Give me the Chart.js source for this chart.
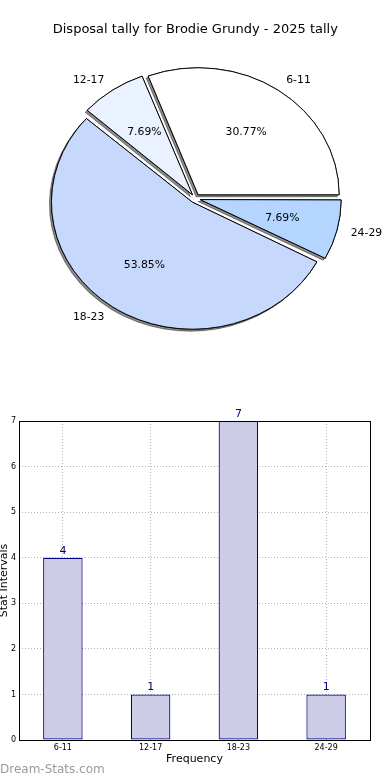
<!DOCTYPE html>
<html>
<head>
<meta charset="utf-8">
<script src="https://cdn.jsdelivr.net/npm/chart.js@4.4.1/dist/chart.umd.min.js"></script>
<style>
  html, body { margin: 0; padding: 0; background: #fff; }
  body { width: 390px; height: 780px; position: relative; overflow: hidden; }
  #pie { position: absolute; left: 0; top: 0; }
  #bar { position: absolute; left: 0; top: 395px; }
  .mark { position: absolute; left: 0; top: 761px; font: 12px "DejaVu Sans", sans-serif; color: #9a9a9a; line-height: 16px; }
</style>
</head>
<body>
<canvas id="pie" width="390" height="400"></canvas>
<canvas id="bar" width="390" height="385"></canvas>
<div class="mark">Dream-Stats.com</div>
<script>
const chartTitle = "Disposal tally for Brodie Grundy - 2025 tally"
const categories = ["6-11", "12-17", "18-23", "24-29"]
const counts = [4, 1, 7, 1]
const yTicks = [0, 1, 2, 3, 4, 5, 6, 7]
const xLabel = "Frequency"
const yLabel = "Stat Intervals"

const pieColors = ["#ffffff", "#eaf2ff", "#c6d9fd", "#b3d5ff"]

Chart.defaults.font.family = "'DejaVu Sans', sans-serif"
Chart.defaults.color = "#000"

// the original pie is a bit squashed vertically
const squash = 127 / 141
const total = counts.reduce((a, b) => a + b, 0)

const pieLook = {
  id: "pieLook",
  beforeDatasetsDraw(chart) {
    const meta = chart.getDatasetMeta(0)
    const R = meta.controller.outerRadius
    meta.data.forEach(arc => {
      // chart.js grows big exploded slices, the original keeps one radius
      const fix = 1 - Math.sin(Math.min(Math.PI, arc.circumference))
      arc.outerRadius = R - (arc.options.offset / 4) * fix
    })
    const { x, y } = meta.data[0]
    const ctx = chart.ctx
    ctx.save()
    ctx.translate(x, y)
    ctx.scale(1, squash)
    ctx.translate(-x, -y)
    // first pass only leaves the drop shadow, the normal pass paints over it
    ctx.save()
    ctx.shadowColor = "rgba(0,0,0,0.45)"
    ctx.shadowOffsetX = -2
    ctx.shadowOffsetY = 2
    meta.data.forEach(arc => arc.draw(ctx))
    ctx.restore()
  },
  afterDatasetsDraw(chart) {
    chart.ctx.restore()
  },
  afterDraw(chart) {
    const meta = chart.getDatasetMeta(0)
    const R = meta.controller.outerRadius
    const ctx = chart.ctx
    ctx.save()
    ctx.font = "10.8px 'DejaVu Sans'"
    ctx.fillStyle = "#000"
    ctx.textBaseline = "middle"
    meta.data.forEach((arc, i) => {
      const mid = (arc.startAngle + arc.endAngle) / 2
      const shift = arc.options.offset / 4
      const at = k => [
        arc.x + Math.cos(mid) * (shift + k * R),
        arc.y + Math.sin(mid) * (shift + k * R) * squash
      ]
      const [lx, ly] = at(1.1)
      ctx.textAlign = Math.cos(mid) > 0 ? "left" : "right"
      ctx.fillText(chart.data.labels[i], lx, ly)
      const [px, py] = at(0.6)
      ctx.textAlign = "center"
      const v = chart.data.datasets[0].data[i]
      ctx.fillText((v / total * 100).toFixed(2) + "%", px, py)
    })
    ctx.restore()
  }
}

// chart.js goes clockwise, the original counter-clockwise from 3 o'clock
const order = categories.map((_, i) => i).reverse()

new Chart(document.getElementById("pie"), {
  type: "pie",
  data: {
    labels: order.map(i => categories[i]),
    datasets: [{
      data: order.map(i => counts[i]),
      backgroundColor: order.map(i => pieColors[i]),
      borderColor: "#000",
      borderWidth: 1,
      offset: 20
    }]
  },
  options: {
    responsive: false,
    animation: false,
    events: [],
    rotation: 90,
    radius: 141,
    layout: { padding: { top: 0, left: 0.6, right: 0, bottom: 50.6 } },
    plugins: {
      legend: { display: false },
      tooltip: { enabled: false },
      title: {
        display: true,
        text: chartTitle,
        color: "#000",
        font: { size: 13, weight: "normal", lineHeight: 1.2 },
        padding: { top: 22, bottom: 10 }
      }
    }
  },
  plugins: [pieLook]
})

const barLook = {
  id: "barLook",
  afterDraw(chart) {
    const ctx = chart.ctx
    const { left, top, width, height } = chart.chartArea
    ctx.save()
    ctx.strokeStyle = "#000"
    ctx.lineWidth = 1
    ctx.strokeRect(left + 0.5, top + 0.5, width, height)
    ctx.font = "11px 'DejaVu Sans'"
    ctx.fillStyle = "#000080"
    ctx.textAlign = "center"
    ctx.textBaseline = "alphabetic"
    chart.getDatasetMeta(0).data.forEach((bar, i) => {
      ctx.fillText(String(counts[i]), bar.x, bar.y - 4)
    })
    ctx.restore()
  }
}

const gridColor = "rgba(0,0,0,0.3)"

new Chart(document.getElementById("bar"), {
  type: "bar",
  data: {
    labels: categories,
    datasets: [{
      data: counts,
      backgroundColor: "#cccce6",
      borderColor: "#00008b",
      borderWidth: 1.2,
      borderSkipped: false,
      categoryPercentage: 1,
      barPercentage: 0.45
    }]
  },
  options: {
    responsive: false,
    animation: false,
    events: [],
    layout: { padding: { top: 26, right: 20, bottom: 14, left: 0 } },
    plugins: {
      legend: { display: false },
      tooltip: { enabled: false }
    },
    scales: {
      x: {
        z: 1,
        grid: { offset: false, color: gridColor, drawTicks: false },
        border: { display: false, dash: [1, 2] },
        ticks: { font: { size: 8 }, color: "#000", padding: 3 },
        title: { display: true, text: xLabel, color: "#000", font: { size: 11 }, padding: 0 },
        afterFit: s => { s.height = 26 }
      },
      y: {
        z: 1,
        min: 0,
        max: 7,
        afterBuildTicks: s => { s.ticks = yTicks.map(v => ({ value: v })) },
        grid: { color: gridColor, drawTicks: false },
        border: { display: false, dash: [1, 2] },
        ticks: { font: { size: 8 }, color: "#000", padding: 3 },
        title: { display: true, text: yLabel, color: "#000", font: { size: 11 }, padding: { top: -2, bottom: 0 } },
        afterFit: s => { s.width = 19 }
      }
    }
  },
  plugins: [barLook]
})
</script>
</body>
</html>
